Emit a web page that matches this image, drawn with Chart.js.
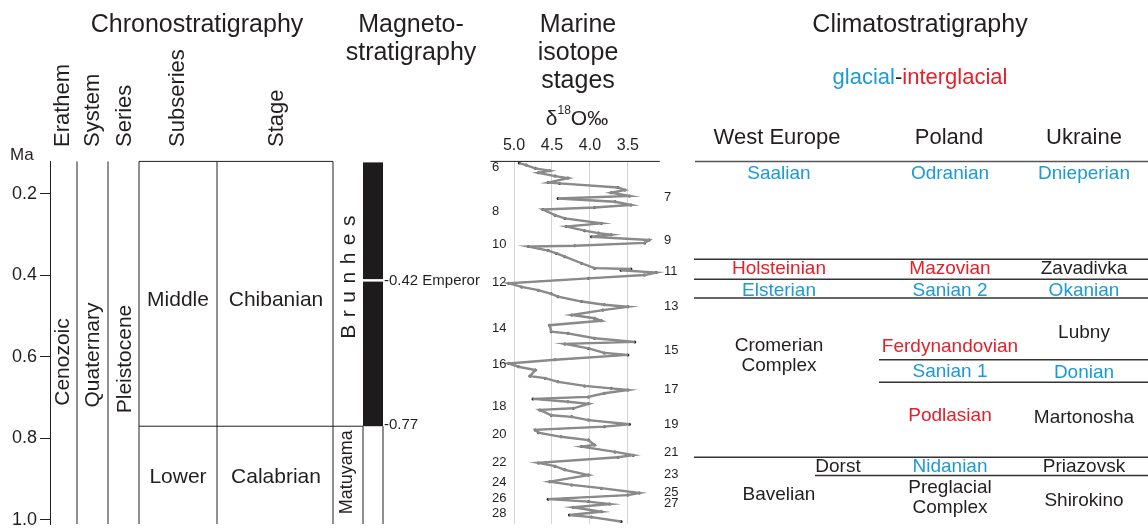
<!DOCTYPE html>
<html>
<head>
<meta charset="utf-8">
<script src="https://cdn.jsdelivr.net/npm/chart.js@4.4.1/dist/chart.umd.min.js"></script>
<style>
  html, body { margin: 0; padding: 0; background: #fff; }
  canvas { display: block; }
</style>
</head>
<body>
<canvas id="chart" width="1148" height="529"></canvas>
<script>
// ---- data ----
const ageTicks = [0.2, 0.4, 0.6, 0.8, 1.0];
const isoTicks = [5.0, 4.5, 4.0, 3.5];

// benthic d18O (Ma, per mil)
const isoAge = [0.124, 0.129, 0.137, 0.143, 0.148, 0.156, 0.161, 0.172, 0.174, 0.184,
  0.190, 0.197, 0.205, 0.211, 0.219, 0.227, 0.233, 0.238, 0.252, 0.260,
  0.272, 0.280, 0.290, 0.296, 0.300, 0.305, 0.313, 0.320, 0.327, 0.329,
  0.339, 0.346, 0.354, 0.370, 0.382, 0.384, 0.387, 0.393, 0.399, 0.407,
  0.419, 0.428, 0.436, 0.445, 0.452, 0.464, 0.472, 0.477, 0.485, 0.497,
  0.505, 0.511, 0.522, 0.538, 0.542, 0.554, 0.563, 0.568, 0.579, 0.590,
  0.595, 0.607, 0.616, 0.624, 0.632, 0.647, 0.652, 0.661, 0.671, 0.677,
  0.681, 0.689, 0.698, 0.703, 0.710, 0.715, 0.726, 0.730, 0.743, 0.747,
  0.755, 0.765, 0.771, 0.779, 0.786, 0.796, 0.804, 0.816, 0.820, 0.833,
  0.841, 0.846, 0.860, 0.868, 0.877, 0.890, 0.906, 0.914, 0.922, 0.934,
  0.939, 0.949, 0.955, 0.961, 0.969, 0.980, 0.988, 0.993, 1.004];
const isoValue = [4.93, 4.84, 4.72, 4.53, 4.68, 4.46, 4.29, 4.55, 4.40, 3.63,
  3.54, 3.72, 3.48, 4.42, 3.67, 3.46, 3.94, 4.62, 4.46, 4.33,
  3.85, 4.31, 4.07, 3.89, 3.72, 3.98, 3.22, 3.28, 4.20, 4.81,
  4.55, 4.44, 4.33, 4.11, 3.94, 3.46, 3.59, 3.13, 3.28, 4.02,
  5.07, 4.90, 4.68, 4.51, 4.42, 4.11, 3.81, 3.50, 3.83, 4.24,
  3.94, 3.85, 4.53, 4.51, 4.29, 3.94, 3.41, 4.33, 4.02, 3.81,
  3.50, 4.46, 5.07, 4.94, 4.72, 4.79, 4.59, 4.42, 4.07, 3.72,
  3.50, 3.81, 4.02, 4.75, 4.29, 4.02, 4.22, 4.66, 4.51, 4.24,
  4.02, 3.48, 3.81, 4.72, 4.68, 4.38, 4.02, 3.94, 4.11, 3.67,
  3.43, 3.63, 4.68, 4.46, 4.33, 4.02, 4.53, 4.24, 3.85, 3.35,
  3.50, 4.55, 4.02, 3.74, 4.22, 3.85, 4.27, 3.98, 3.59];

const misEvenStage = [6, 8, 10, 12, 14, 16, 18, 20, 22, 24, 26, 28];
const misEvenAge = [0.134, 0.242, 0.323, 0.417, 0.529, 0.618, 0.721, 0.789, 0.860, 0.907, 0.946, 0.985];
const misOddStage = [7, 9, 11, 13, 15, 17, 19, 21, 23, 25, 27];
const misOddAge = [0.208, 0.314, 0.389, 0.477, 0.583, 0.679, 0.765, 0.834, 0.888, 0.932, 0.959];

const middleLowerAge = 0.77;
const brunhesMatuyamaAge = 0.77;
const emperorAge = 0.412;

// climatostratigraphic boundaries (Ma)
const allColumnsBounds = [0.12, 0.36, 0.409, 0.455, 0.846];
const polandUkraineBounds = [0.607, 0.662];
const dorstBounds = [0.891];

// [name, age, kind] kind: g = glacial, i = interglacial, n = neutral
const westEurope = [["Saalian", 0.151, "g"], ["Holsteinian", 0.384, "i"], ["Elsterian", 0.437, "g"],
  ["Cromerian\nComplex", 0.598, "n"], ["Bavelian", 0.939, "n"]];
const dorst = [["Dorst", 0.870, "n"]];
const poland = [["Odranian", 0.151, "g"], ["Mazovian", 0.384, "i"], ["Sanian 2", 0.437, "g"],
  ["Ferdynandovian", 0.576, "i"], ["Sanian 1", 0.637, "g"], ["Podlasian", 0.745, "i"],
  ["Nidanian", 0.870, "g"], ["Preglacial\nComplex", 0.946, "n"]];
const ukraine = [["Dnieperian", 0.151, "g"], ["Zavadivka", 0.384, "n"], ["Okanian", 0.437, "g"],
  ["Lubny", 0.541, "n"], ["Donian", 0.639, "g"], ["Martonosha", 0.750, "n"],
  ["Priazovsk", 0.870, "n"], ["Shirokino", 0.953, "n"]];

// ---- drawing ----
const SANS = 'Arial, "Liberation Sans", sans-serif';
const NARROW = '"Liberation Sans Narrow", "Arial Narrow", Arial, sans-serif';
const INK = '#231f20';
const BLUE = '#1b9ad7';
const RED = '#e4202a';
const kindColor = { g: BLUE, i: RED, n: INK };

function txt(ctx, s, x, y, size, color, align, font) {
  ctx.font = size + 'px ' + (font || SANS);
  ctx.fillStyle = color || INK;
  ctx.textAlign = align || 'center';
  ctx.textBaseline = 'middle';
  const lines = s.split('\n');
  const lh = size * 1.05;
  lines.forEach((l, i) => ctx.fillText(l, x, y + (i - (lines.length - 1) / 2) * lh));
}

function vtxt(ctx, s, x, y, size, align) {
  ctx.save();
  ctx.translate(x, y);
  ctx.rotate(-Math.PI / 2);
  txt(ctx, s, 0, 0, size, INK, align || 'center');
  ctx.restore();
}

function line(ctx, x1, y1, x2, y2, color, w) {
  ctx.beginPath();
  ctx.strokeStyle = color || INK;
  ctx.lineWidth = w || 1;
  ctx.moveTo(x1, y1);
  ctx.lineTo(x2, y2);
  ctx.stroke();
}

const stratPlugin = {
  id: 'strat',
  afterDraw(chart) {
    const ctx = chart.ctx;
    const Y = v => chart.scales.y.getPixelForValue(v);
    const X = v => chart.scales.x.getPixelForValue(v);
    const top = chart.chartArea.top;
    const bot = chart.chartArea.bottom;
    ctx.save();

    // headers
    txt(ctx, 'Chronostratigraphy', 197, 25, 25);
    txt(ctx, 'Magneto-', 411, 25, 25);
    txt(ctx, 'stratigraphy', 411, 53, 25);
    txt(ctx, 'Marine', 578, 25, 25);
    txt(ctx, 'isotope', 578, 53, 25);
    txt(ctx, 'stages', 578, 81, 25);
    txt(ctx, 'Climatostratigraphy', 920, 25, 25);

    ctx.font = '22px ' + SANS;
    const wg = ctx.measureText('glacial').width;
    const wd = ctx.measureText('-').width;
    const wi = ctx.measureText('interglacial').width;
    const gx = 920 - (wg + wd + wi) / 2;
    txt(ctx, 'glacial', gx, 78, 22, BLUE, 'left');
    txt(ctx, '-', gx + wg, 78, 22, INK, 'left');
    txt(ctx, 'interglacial', gx + wg + wd, 78, 22, RED, 'left');

    // delta 18 O title
    ctx.font = '21px ' + SANS;
    const wdl = ctx.measureText('δ').width;
    const wo = ctx.measureText('O‰').width;
    ctx.font = '12px ' + SANS;
    const w18 = ctx.measureText('18').width;
    const dx = 577 - (wdl + w18 + wo) / 2;
    txt(ctx, 'δ', dx, 119, 21, INK, 'left');
    txt(ctx, '18', dx + wdl, 111, 12, INK, 'left');
    txt(ctx, 'O‰', dx + wdl + w18, 119, 21, INK, 'left');

    txt(ctx, 'Ma', 10, 155, 17, INK, 'left');
    vtxt(ctx, 'Erathem', 63, 147, 22, 'left');
    vtxt(ctx, 'System', 93, 147, 22, 'left');
    vtxt(ctx, 'Series', 125, 147, 22, 'left');
    vtxt(ctx, 'Subseries', 178, 147, 22, 'left');
    vtxt(ctx, 'Stage', 277, 147, 22, 'left');

    // chronostratigraphy table
    [77, 108, 139, 217, 333].forEach(x => line(ctx, x, top, x, bot));
    line(ctx, 139, top, 333, top);
    line(ctx, 139, Y(middleLowerAge), 363, Y(middleLowerAge));
    vtxt(ctx, 'Cenozoic', 63, 362, 21);
    vtxt(ctx, 'Quaternary', 93, 355, 21);
    vtxt(ctx, 'Pleistocene', 125, 359, 21);
    txt(ctx, 'Middle', 178, Y(0.46), 21);
    txt(ctx, 'Chibanian', 276, Y(0.46), 21);
    txt(ctx, 'Lower', 178, Y(0.894), 21);
    txt(ctx, 'Calabrian', 276, Y(0.894), 21);

    // magnetostratigraphy
    const yBM = Y(brunhesMatuyamaAge);
    ctx.fillStyle = '#1d1b1c';
    ctx.fillRect(363, top + 1, 20, yBM - top - 1);
    line(ctx, 362, Y(emperorAge), 384, Y(emperorAge), '#fff', 2.5);
    line(ctx, 363, yBM, 363, bot);
    line(ctx, 383, yBM, 383, bot);
    txt(ctx, '-0.42 Emperor', 384, Y(emperorAge), 15, INK, 'left');
    txt(ctx, '-0.77', 384, yBM - 1, 15, INK, 'left');
    // letter-spaced Brunhes
    ctx.save();
    ctx.translate(349, Y(0.404));
    ctx.rotate(-Math.PI / 2);
    ctx.font = '21px ' + SANS;
    const letters = 'Brunhes'.split('');
    const gap = 7.5;
    const tw = letters.reduce((a, c) => a + ctx.measureText(c).width, 0) + gap * (letters.length - 1);
    let lx = -tw / 2;
    ctx.fillStyle = INK;
    ctx.textAlign = 'left';
    ctx.textBaseline = 'middle';
    letters.forEach(c => { ctx.fillText(c, lx, 0); lx += ctx.measureText(c).width + gap; });
    ctx.restore();
    vtxt(ctx, 'Matuyama', 347, Y(0.883), 18);

    // isotope axis line and stage numbers
    line(ctx, X(5.31), top, X(3.08), top, INK, 1);
    misEvenStage.forEach((s, i) => txt(ctx, String(s), 492, Y(misEvenAge[i]), 13, INK, 'left', NARROW));
    misOddStage.forEach((s, i) => txt(ctx, String(s), 664, Y(misOddAge[i]), 13, INK, 'left', NARROW));

    // climatostratigraphy
    txt(ctx, 'West Europe', 777, 138, 22);
    txt(ctx, 'Poland', 949, 138, 22);
    txt(ctx, 'Ukraine', 1084, 138, 22);
    allColumnsBounds.forEach((a, i) => line(ctx, i === 0 ? 695 : 694, Y(a), 1148, Y(a), i === 0 ? '#555' : '#333', 1.5));
    polandUkraineBounds.forEach(a => line(ctx, 879, Y(a), 1148, Y(a), '#333', 1.5));
    dorstBounds.forEach(a => line(ctx, 815, Y(a), 1148, Y(a), '#333', 1.5));
    westEurope.forEach(r => txt(ctx, r[0], 779, Y(r[1]), 19, kindColor[r[2]]));
    dorst.forEach(r => txt(ctx, r[0], 838, Y(r[1]), 19, kindColor[r[2]]));
    poland.forEach(r => txt(ctx, r[0], 950, Y(r[1]), 19, kindColor[r[2]]));
    ukraine.forEach(r => txt(ctx, r[0], 1084, Y(r[1]), 19, kindColor[r[2]]));

    ctx.restore();
  }
};

const isoPoints = isoAge.map((a, i) => ({ x: isoValue[i], y: a }));

new Chart(document.getElementById('chart'), {
  type: 'scatter',
  data: {
    datasets: [
      { data: isoPoints, showLine: true, borderColor: '#8a8a8a', borderWidth: 2.4, pointRadius: 0, tension: 0 },
      { data: isoPoints, showLine: true, borderColor: '#1e1e1e', borderWidth: 0.9, pointRadius: 1.5,
        pointBackgroundColor: '#1e1e1e', pointBorderWidth: 0, tension: 0 }
    ]
  },
  options: {
    responsive: false,
    animation: false,
    events: [],
    layout: { padding: { top: 0, left: 0, right: 0, bottom: 5 } },
    plugins: { legend: { display: false }, tooltip: { enabled: false } },
    scales: {
      x: {
        type: 'linear',
        position: 'top',
        reverse: true,
        min: -3.298,
        max: 11.112,
        afterBuildTicks: s => { s.ticks = isoTicks.map(v => ({ value: v })); },
        afterFit: s => { s.height = 161.4; s.paddingLeft = 0; s.paddingRight = 0; },
        border: { display: false },
        grid: { color: '#d4d4d4', lineWidth: 1, drawTicks: false },
        ticks: {
          color: INK,
          padding: 6,
          font: { family: SANS, size: 16 },
          callback: v => v.toFixed(1)
        }
      },
      y: {
        type: 'linear',
        position: 'left',
        reverse: true,
        min: 0.12,
        max: 1.01,
        afterBuildTicks: s => { s.ticks = ageTicks.map(v => ({ value: v })); },
        afterFit: s => { s.width = 50; s.paddingTop = 0; s.paddingBottom = 0; },
        border: { display: true, color: INK, width: 1 },
        grid: { drawOnChartArea: false, color: INK, tickLength: 10 },
        ticks: {
          color: INK,
          padding: 3,
          font: { family: SANS, size: 18 },
          callback: v => v.toFixed(1)
        }
      }
    }
  },
  plugins: [stratPlugin]
});
</script>
</body>
</html>
